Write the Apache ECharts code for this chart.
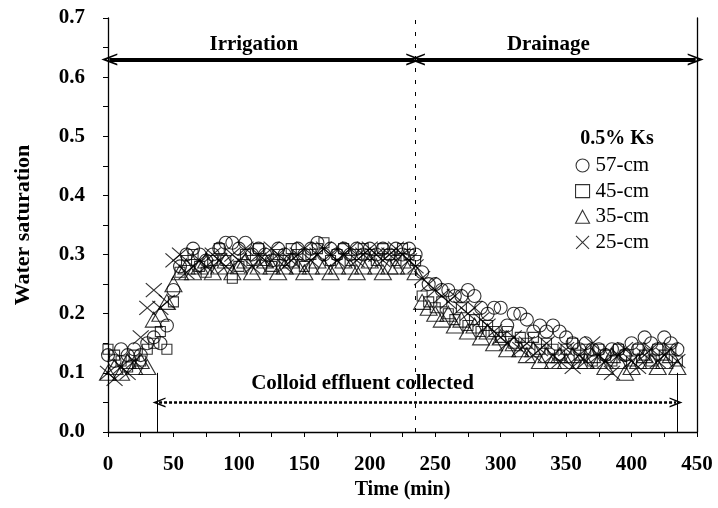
<!DOCTYPE html>
<html>
<head>
<meta charset="utf-8">
<script src="https://cdn.jsdelivr.net/npm/echarts@6/dist/echarts.min.js"></script>
<style>html,body{margin:0;padding:0;background:#fff}#c{width:718px;height:508px}</style>
</head>
<body>
<div id="c"></div>
<script>
// ---- data ----
const time = [0,5,10,15,20,25,30,35,40,45,50,55,60,65,70,75,80,85,90,95,100,105,110,115,120,125,130,135,140,145,150,155,160,165,170,175,180,185,190,195,200,205,210,215,220,225,230,235,240,245,250,255,260,265,270,275,280,285,290,295,300,305,310,315,320,325,330,335,340,345,350,355,360,365,370,375,380,385,390,395,400,405,410,415,420,425,430,435];
const cm57 = [0.13,0.12,0.14,0.13,0.14,0.13,0.15,0.16,0.15,0.18,0.24,0.28,0.30,0.31,0.30,0.29,0.30,0.31,0.32,0.32,0.31,0.32,0.30,0.31,0.30,0.29,0.31,0.30,0.29,0.31,0.30,0.31,0.32,0.30,0.31,0.30,0.31,0.30,0.31,0.30,0.31,0.30,0.31,0.30,0.31,0.30,0.31,0.30,0.27,0.25,0.25,0.24,0.24,0.23,0.23,0.24,0.23,0.21,0.20,0.21,0.21,0.18,0.20,0.20,0.19,0.17,0.18,0.17,0.18,0.17,0.16,0.15,0.14,0.15,0.14,0.14,0.13,0.14,0.14,0.13,0.15,0.14,0.16,0.15,0.14,0.16,0.15,0.14];
const cm45 = [0.14,0.13,0.12,0.11,0.13,0.12,0.14,0.15,0.17,0.14,0.22,0.27,0.29,0.30,0.28,0.27,0.29,0.31,0.29,0.26,0.28,0.30,0.29,0.31,0.29,0.28,0.30,0.29,0.31,0.30,0.28,0.30,0.31,0.32,0.29,0.30,0.31,0.29,0.30,0.31,0.30,0.29,0.31,0.30,0.29,0.31,0.30,0.29,0.23,0.22,0.21,0.22,0.20,0.19,0.21,0.18,0.19,0.17,0.18,0.17,0.16,0.17,0.15,0.16,0.15,0.16,0.14,0.15,0.14,0.13,0.14,0.15,0.13,0.14,0.12,0.14,0.13,0.12,0.14,0.13,0.12,0.14,0.13,0.12,0.14,0.13,0.14,0.12];
const cm35 = [0.10,0.11,0.10,0.12,0.11,0.12,0.11,0.19,0.20,0.22,0.25,0.27,0.28,0.27,0.28,0.29,0.27,0.28,0.29,0.27,0.28,0.29,0.27,0.28,0.29,0.28,0.27,0.28,0.29,0.28,0.27,0.28,0.29,0.28,0.27,0.28,0.29,0.28,0.27,0.28,0.29,0.28,0.27,0.28,0.28,0.29,0.28,0.27,0.22,0.21,0.20,0.19,0.20,0.18,0.19,0.17,0.18,0.16,0.17,0.15,0.16,0.14,0.15,0.14,0.13,0.14,0.12,0.13,0.12,0.13,0.12,0.13,0.12,0.12,0.13,0.12,0.11,0.13,0.12,0.10,0.11,0.12,0.13,0.12,0.11,0.12,0.13,0.11];
const cm25 = [0.10,0.09,0.11,0.10,0.12,0.16,0.21,0.24,0.21,0.22,0.29,0.30,0.27,0.28,0.29,0.28,0.30,0.29,0.28,0.30,0.29,0.31,0.28,0.30,0.29,0.31,0.30,0.28,0.29,0.30,0.31,0.29,0.30,0.31,0.30,0.29,0.30,0.31,0.29,0.30,0.31,0.30,0.29,0.30,0.31,0.30,0.29,0.28,0.26,0.25,0.24,0.23,0.22,0.23,0.21,0.20,0.21,0.19,0.18,0.17,0.16,0.15,0.16,0.14,0.15,0.13,0.14,0.15,0.13,0.12,0.14,0.11,0.13,0.12,0.15,0.13,0.12,0.10,0.13,0.14,0.12,0.11,0.13,0.14,0.12,0.13,0.14,0.12];
const seriesNames = ['57-cm','45-cm','35-cm','25-cm'];
const legendTitle = '0.5% Ks';
const xTicks = {min:0, max:450, step:50};
const yTicks = {min:0, max:0.7, step:0.1};
const irrigation = {label:'Irrigation', from:1, to:234, y:0.63};
const drainage = {label:'Drainage', from:236, to:449, y:0.63};
const effluent = {label:'Colloid effluent collected', from:39, to:434, y:0.05};
const phaseBoundary = 235;
const collectStart = 38, collectEnd = 435, collectMarkTop = 0.1;

// ---- chart ----
const FONT = 'Liberation Serif';
const chart = echarts.init(document.getElementById('c'), null, {renderer:'canvas'});
const crossPath = 'path://M0,0L10,10M10,0L0,10';
const chevron = 'path://M0,12L6,0L12,12L10.3,12L6,3.8L1.7,12Z';
const open = {color:'rgba(255,255,255,0)', borderColor:'#000', borderWidth:1.1};
const symbols = ['circle','rect','triangle',crossPath];
const sizes = [13,10,[17,15],[16,14]];

function pts(arr){ return time.map((t,i)=>[t, arr[i]]); }
const dataArr = [cm57, cm45, cm35, cm25];

const series = dataArr.map((d,i)=>({
  name: seriesNames[i], type:'scatter', data: pts(d),
  symbol: symbols[i], symbolSize: sizes[i],
  itemStyle: open, emphasis:{disabled:true}, z: 2+i
}));

const seg = s => [{coord:[s.from, s.y]},{coord:[s.to, s.y]}];

series.push({
  type:'scatter', data:[], silent:true, z:10,
  markLine:{
    silent:true, animation:false,
    symbol:[chevron, chevron], symbolSize:[12,16],
    label:{show:false},
    lineStyle:{color:'#000', width:4, type:'solid'},
    data:[seg(irrigation), seg(drainage)]
  }
});
series.push({
  type:'scatter', data:[], silent:true, z:10,
  markLine:{
    silent:true, animation:false,
    symbol:[chevron, chevron], symbolSize:[10,13],
    label:{show:false},
    lineStyle:{color:'#000', width:2.5, type:[3,2]},
    data:[seg(effluent)]
  }
});
series.push({
  type:'scatter', data:[], silent:true, z:9,
  markLine:{
    silent:true, animation:false, symbol:['none','none'],
    label:{show:false},
    lineStyle:{color:'#000', width:1, type:[4,8]},
    data:[[{coord:[phaseBoundary,0]},{coord:[phaseBoundary,0.7]}]]
  }
});
series.push({
  type:'scatter', data:[], silent:true, z:9,
  markLine:{
    silent:true, animation:false, symbol:['none','none'],
    label:{show:false},
    lineStyle:{color:'#000', width:1, type:'solid'},
    data:[[{coord:[collectStart,0]},{coord:[collectStart,collectMarkTop]}],
          [{coord:[collectEnd,0]},{coord:[collectEnd,collectMarkTop]}]]
  }
});

const axisCommon = {
  axisLine:{show:true, lineStyle:{color:'#000', width:1.3}},
  axisTick:{show:true, inside:false, length:5, lineStyle:{color:'#000'}},
  minorTick:{show:true, splitNumber:2, length:5, lineStyle:{color:'#000'}},
  splitLine:{show:false}
};
const labelFont = {fontFamily:FONT, fontSize:21, fontWeight:'bold', color:'#000'};

chart.setOption({
  animation:false,
  backgroundColor:'#fff',
  textStyle:{fontFamily:FONT},
  grid:{left:108, right:21, top:18, bottom:76, containLabel:false},
  xAxis:Object.assign({
    type:'value', min:xTicks.min, max:xTicks.max, interval:xTicks.step,
    name:'Time (min)', nameLocation:'middle', nameGap:47,
    nameTextStyle:{fontFamily:FONT, fontSize:20, fontWeight:'bold', color:'#000'},
    axisLabel:Object.assign({margin:22}, labelFont)
  }, axisCommon),
  yAxis:[Object.assign({
    type:'value', min:yTicks.min, max:yTicks.max, interval:yTicks.step,
    name:'Water saturation', nameLocation:'middle', nameGap:74, nameRotate:90,
    nameTextStyle:{fontFamily:FONT, fontSize:22, fontWeight:'bold', color:'#000'},
    axisLabel:Object.assign({margin:23, formatter:v=>v.toFixed(1)}, labelFont)
  }, axisCommon),{
    type:'value', position:'right', min:yTicks.min, max:yTicks.max, interval:yTicks.step,
    axisLine:{show:true, onZero:false, lineStyle:{color:'#000', width:1.3}},
    axisTick:{show:false}, axisLabel:{show:false}, splitLine:{show:false}
  }],
  legend:{
    orient:'vertical', left:575, top:155, itemGap:4.6, itemWidth:14, itemHeight:13,
    selectedMode:false, padding:0,
    textStyle:{fontFamily:FONT, fontSize:21, color:'#000', padding:[0,0,0,1]},
    data:seriesNames.map((n,i)=>({name:n, icon: symbols[i],
      itemStyle:{color:'rgba(255,255,255,0)', borderColor:'#000', borderWidth:1.1}}))
  },
  series: series
});

// text annotations placed through data coordinates
function px(x,y){ return chart.convertToPixel({gridIndex:0}, [x,y]); }
const pI = px((irrigation.from+irrigation.to)/2, irrigation.y);
const pD = px((drainage.from+drainage.to)/2, drainage.y);
const pE = px((effluent.from+effluent.to)/2, effluent.y);
const boldText = {fontFamily:FONT, fontSize:21, fontWeight:'bold', fill:'#000', textAlign:'center', textVerticalAlign:'middle'};
chart.setOption({
  graphic:[
    {type:'text', x:pI[0]-8, y:pI[1]-15, style:Object.assign({text:irrigation.label}, boldText)},
    {type:'text', x:pD[0]-8, y:pD[1]-15, style:Object.assign({text:drainage.label}, boldText)},
    {type:'text', x:pE[0]-55, y:pE[1]-19, style:Object.assign({text:effluent.label}, boldText)},
    {type:'text', x:617, y:139, style:Object.assign({text:legendTitle}, boldText, {fontSize:20})}
  ]
});
</script>
</body>
</html>
